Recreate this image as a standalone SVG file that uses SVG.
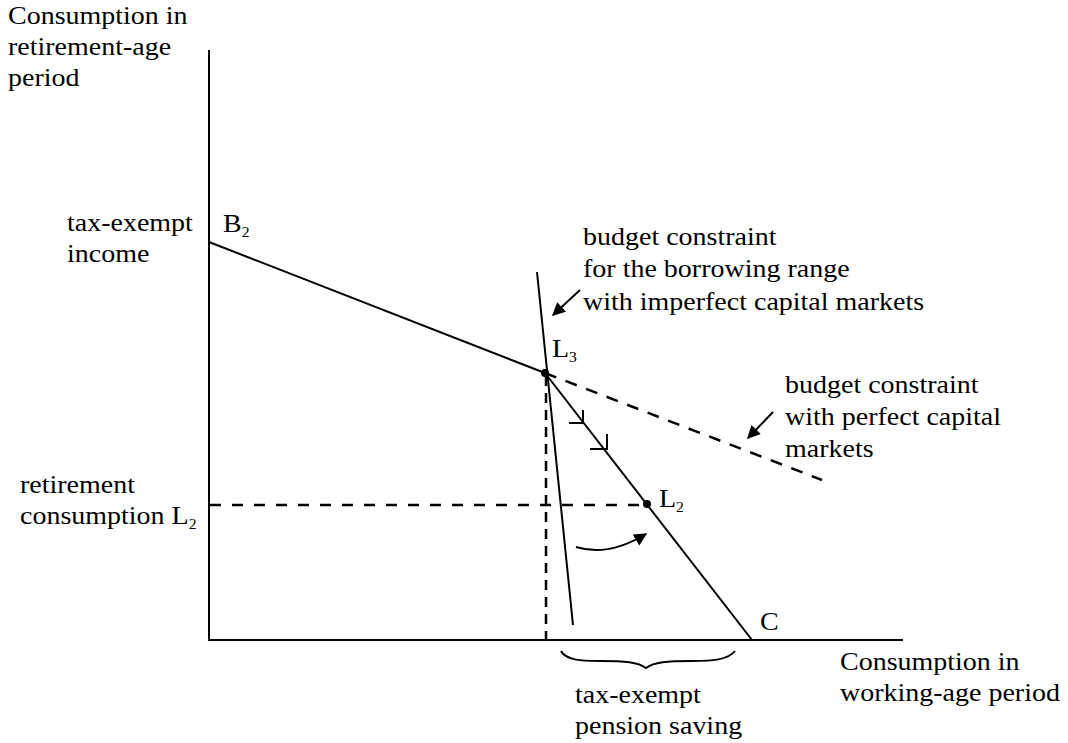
<svg xmlns="http://www.w3.org/2000/svg" width="1068" height="743" viewBox="0 0 1068 743">
<style>
.t{font-family:"Liberation Serif","Times New Roman",serif;font-size:25px;fill:#000}
.s{font-size:14px}
.ln{stroke:#000;stroke-width:2;fill:none}
.dash{stroke:#000;stroke-width:2.5;fill:none;stroke-dasharray:11 11}
</style>
<defs>
<marker id="ah" viewBox="0 0 10 10" refX="9" refY="5" markerWidth="14" markerHeight="13" markerUnits="userSpaceOnUse" orient="auto">
<path d="M0,0 L10,5 L0,10 z" fill="#000"/>
</marker>
</defs>
<rect width="1068" height="743" fill="#fff"/>
<g id="axes">
<line class="ln" x1="209" y1="50" x2="209" y2="641"/>
<line class="ln" x1="208" y1="640" x2="903" y2="640"/>
</g>
<g id="connectors">
<line class="ln" x1="209" y1="242" x2="545" y2="373"/>
<line class="ln" x1="545" y1="373" x2="752" y2="640"/>
<line class="ln" x1="537" y1="272" x2="573" y2="625"/>
<line class="dash" x1="545" y1="373" x2="822" y2="480" style="stroke-dasharray:12 10"/>
<line class="dash" x1="546" y1="376" x2="546" y2="640" style="stroke-dasharray:10 7"/>
<line class="dash" x1="210" y1="505" x2="647" y2="505"/>
<path class="ln" d="M569,423 H583 V410 M590,449 H607 V434"/>
<line class="ln" x1="580" y1="290" x2="553" y2="315" marker-end="url(#ah)"/>
<line class="ln" x1="773" y1="412" x2="748" y2="438" marker-end="url(#ah)"/>
<path class="ln" d="M576,547 Q608,557 646,534" marker-end="url(#ah)"/>
<path class="ln" d="M561,651 C566,660 580,661 600,661 C625,661 638,662 646,668 C654,662 667,661 692,661 C712,661 728,660 735,651"/>
</g>
<g id="point-L3"><circle cx="545" cy="373" r="4"/><text class="t" transform="translate(552,357) scale(1.12,1)">L<tspan class="s" dy="5">3</tspan></text></g>
<g id="point-L2"><circle cx="647" cy="504" r="4"/><text class="t" transform="translate(659,507) scale(1.12,1)">L<tspan class="s" dy="5">2</tspan></text></g>
<g id="label-B2"><text class="t" transform="translate(223,232) scale(1.12,1)">B<tspan class="s" dy="5">2</tspan></text></g>
<g id="label-C"><text class="t" transform="translate(760,630) scale(1.12,1)">C</text></g>
<g id="label-yaxis">
<text class="t" transform="translate(8,24) scale(1.12,1)">Consumption in</text>
<text class="t" transform="translate(8,55) scale(1.12,1)">retirement-age</text>
<text class="t" transform="translate(8,86) scale(1.12,1)">period</text>
</g>
<g id="label-tax-exempt-income">
<text class="t" transform="translate(67,231) scale(1.12,1)">tax-exempt</text>
<text class="t" transform="translate(67,262) scale(1.12,1)">income</text>
</g>
<g id="label-imperfect">
<text class="t" transform="translate(583,245) scale(1.12,1)">budget constraint</text>
<text class="t" transform="translate(583,277) scale(1.12,1)">for the borrowing range</text>
<text class="t" transform="translate(583,310) scale(1.12,1)">with imperfect capital markets</text>
</g>
<g id="label-perfect">
<text class="t" transform="translate(785,393) scale(1.12,1)">budget constraint</text>
<text class="t" transform="translate(785,425) scale(1.12,1)">with perfect capital</text>
<text class="t" transform="translate(785,457) scale(1.12,1)">markets</text>
</g>
<g id="label-retirement-consumption">
<text class="t" transform="translate(20,493) scale(1.12,1)">retirement</text>
<text class="t" transform="translate(20,524) scale(1.12,1)">consumption L<tspan class="s" dy="5">2</tspan></text>
</g>
<g id="label-xaxis">
<text class="t" transform="translate(840,670) scale(1.12,1)">Consumption in</text>
<text class="t" transform="translate(840,701) scale(1.12,1)">working-age period</text>
</g>
<g id="label-pension-saving">
<text class="t" transform="translate(575,703) scale(1.12,1)">tax-exempt</text>
<text class="t" transform="translate(575,734) scale(1.12,1)">pension saving</text>
</g>
</svg>
